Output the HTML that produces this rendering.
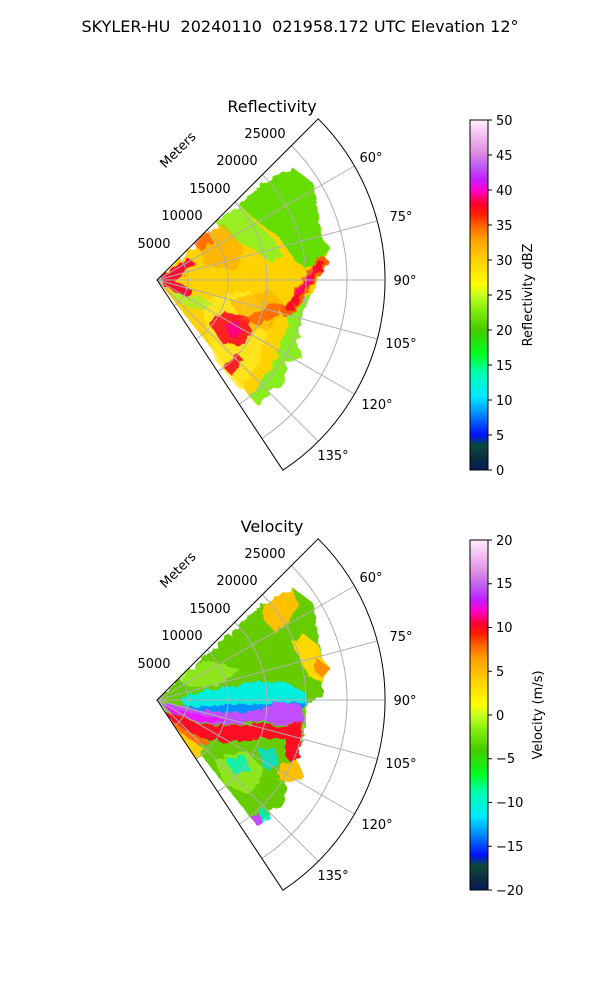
<!DOCTYPE html>
<html><head><meta charset="utf-8"><style>
html,body{margin:0;padding:0;background:#fff;}
svg{display:block;font-family:"DejaVu Sans","Liberation Sans",sans-serif;}
</style></head><body>
<svg width="600" height="1000" viewBox="0 0 600 1000" xmlns="http://www.w3.org/2000/svg">
<defs>
<linearGradient id="cm" x1="0" y1="1" x2="0" y2="0">
<stop offset="0" stop-color="#0a1a5a"/>
<stop offset="0.03" stop-color="#0a2a40"/>
<stop offset="0.07" stop-color="#0a4a3a"/>
<stop offset="0.1" stop-color="#0010ff"/>
<stop offset="0.17" stop-color="#00a0ff"/>
<stop offset="0.21" stop-color="#00e8ff"/>
<stop offset="0.28" stop-color="#00ffb0"/>
<stop offset="0.33" stop-color="#00ff20"/>
<stop offset="0.4" stop-color="#44cc00"/>
<stop offset="0.46" stop-color="#88ee10"/>
<stop offset="0.5" stop-color="#c8ff20"/>
<stop offset="0.53" stop-color="#ffff00"/>
<stop offset="0.6" stop-color="#ffd000"/>
<stop offset="0.66" stop-color="#ffa000"/>
<stop offset="0.7" stop-color="#ff6000"/>
<stop offset="0.73" stop-color="#ff2000"/>
<stop offset="0.76" stop-color="#ff0030"/>
<stop offset="0.8" stop-color="#ff00d0"/>
<stop offset="0.83" stop-color="#c020ff"/>
<stop offset="0.87" stop-color="#c060f0"/>
<stop offset="0.91" stop-color="#e090e0"/>
<stop offset="0.95" stop-color="#f0b8f0"/>
<stop offset="1" stop-color="#fff0fc"/>
</linearGradient>
<filter id="rough" x="-10%" y="-10%" width="120%" height="120%">
<feTurbulence type="fractalNoise" baseFrequency="0.15" numOctaves="2" seed="3" result="n"/>
<feDisplacementMap in="SourceGraphic" in2="n" scale="7"/>
</filter>
<clipPath id="wedge"><path d="M157,280 L318.2,118.8 A228,228 0 0 1 282.9,470.2 Z"/></clipPath>
<g id="axes">
<g fill="none" stroke="#b0b0b0" stroke-width="1">
<path d="M157,280 L354.5,166 M157,280 L377.2,221 M157,280 L385,280 M157,280 L377.2,339 M157,280 L354.5,394 M157,280 L318.2,441.2"/>
<g clip-path="url(#wedge)">
<circle cx="157" cy="280" r="31"/><circle cx="157" cy="280" r="71"/><circle cx="157" cy="280" r="110"/><circle cx="157" cy="280" r="149"/><circle cx="157" cy="280" r="190"/>
</g>
</g>
<path d="M157,280 L318.2,118.8 A228,228 0 0 1 282.9,470.2 Z" fill="none" stroke="#000" stroke-width="1"/>
<g font-size="13" fill="#000">
<text x="371" y="162" text-anchor="middle">60°</text>
<text x="401" y="221" text-anchor="middle">75°</text>
<text x="405" y="285" text-anchor="middle">90°</text>
<text x="401" y="348" text-anchor="middle">105°</text>
<text x="377" y="409" text-anchor="middle">120°</text>
<text x="333" y="460" text-anchor="middle">135°</text>
<text x="154" y="248" text-anchor="middle">5000</text>
<text x="182" y="220" text-anchor="middle">10000</text>
<text x="210" y="193" text-anchor="middle">15000</text>
<text x="237" y="165" text-anchor="middle">20000</text>
<text x="265" y="138" text-anchor="middle">25000</text>
<text x="0" y="0" text-anchor="middle" transform="translate(181,153) rotate(-45)">Meters</text>
</g>
</g>
</defs>

<text x="300" y="32" font-size="16" text-anchor="middle" xml:space="preserve">SKYLER-HU  20240110  021958.172 UTC Elevation 12°</text>

<!-- Reflectivity -->
<text x="272" y="112" font-size="16" text-anchor="middle">Reflectivity</text>
<g clip-path="url(#wedge)">
<g filter="url(#rough)">
<path fill="#ffd200" d="M157,280 L258,188 L273,178 L293,168 L313,183 L318,215 L323,240 L330,247 L322,270 L313,293 L303,313 L297,343 L303,358 L287,363 L283,387 L270,390 L258,405 L255,403 Z"/>
<path fill="#ffe820" opacity="0.8" d="M200,300 L250,290 L270,320 L260,360 L240,390 L215,360 Z"/>
<path fill="#66dd00" d="M240,205 L258,188 L273,178 L293,168 L313,183 L323,240 L330,247 L322,262 L306,268 L296,262 L288,250 L278,236 L262,225 L250,215 Z"/>
<path fill="#99ee22" d="M215,222 L240,205 L250,216 L262,228 L275,240 L282,255 L270,262 L255,250 L235,240 Z"/>
<path fill="#88ee22" d="M300,300 L313,293 L303,313 L297,343 L303,358 L287,363 L283,387 L270,390 L258,405 L250,396 L262,380 L276,360 L284,335 L290,315 Z"/>
<path fill="#aaf030" opacity="0.8" d="M170,292 L200,296 L215,305 L195,310 L175,300 Z"/>
<path fill="#ffa000" opacity="0.55" d="M195,235 L225,225 L245,250 L235,270 L205,265 Z"/>
<path fill="#ffa000" opacity="0.5" d="M230,300 L270,290 L285,305 L270,330 L245,330 Z"/>
<path fill="none" stroke="#ff6000" stroke-width="11" stroke-linecap="round" d="M287,312 L322,262"/>
<path fill="none" stroke="#ff1020" stroke-width="7" stroke-linecap="round" d="M289,308 L321,264"/>
<path fill="none" stroke="#ff0090" stroke-width="3" stroke-linecap="round" d="M296,296 L315,270"/>
<path fill="#ff2020" d="M208,322 L225,312 L248,318 L252,335 L240,346 L222,343 Z"/>
<path fill="#ff0080" d="M225,325 L238,322 L242,334 L231,338 Z"/>
<path fill="#ff2020" d="M223,367 L237,353 L243,360 L232,376 Z"/>
<path fill="#ff5000" opacity="0.7" d="M242,320 L275,302 L288,306 L260,325 Z"/>
<path fill="#ff1030" d="M160,277 L188,258 L196,264 L174,281 L192,290 L187,298 L162,285 Z"/>
<path fill="#ff4000" opacity="0.6" d="M192,242 L208,232 L213,242 L200,250 Z"/>
</g>
</g>
<use href="#axes"/>
<rect x="470" y="120" width="18" height="350" fill="url(#cm)" stroke="#000" stroke-width="1"/>
<g stroke="#000">
<path d="M488,470h4M488,435h4M488,400h4M488,365h4M488,330h4M488,295h4M488,260h4M488,225h4M488,190h4M488,155h4M488,120h4"/>
</g>
<g font-size="13">
<text x="496" y="475">0</text><text x="496" y="440">5</text><text x="496" y="405">10</text><text x="496" y="370">15</text><text x="496" y="335">20</text><text x="496" y="300">25</text><text x="496" y="265">30</text><text x="496" y="230">35</text><text x="496" y="195">40</text><text x="496" y="160">45</text><text x="496" y="125">50</text>
<text x="0" y="0" text-anchor="middle" transform="translate(532,295) rotate(-90)">Reflectivity dBZ</text>
</g>

<!-- Velocity -->
<text x="272" y="532" font-size="16" text-anchor="middle">Velocity</text>
<g transform="translate(0,420)">
<g clip-path="url(#wedge)">
<g filter="url(#rough)">
<path fill="#66cc00" d="M157,280 L258,188 L277,178 L293,168 L313,183 L318,215 L323,240 L330,248 L322,257 L323,277 L307,282 L305,313 L297,340 L305,358 L287,363 L283,387 L270,390 L258,405 L255,403 Z"/>
<path fill="#99ee22" opacity="0.8" d="M175,255 L210,240 L240,250 L220,265 L190,268 Z"/>
<path fill="#99ee22" opacity="0.8" d="M215,340 L245,330 L265,350 L250,375 L225,365 Z"/>
<path fill="#ffc000" d="M264,186 L277,178 L293,168 L298,185 L288,203 L275,212 L264,200 Z"/>
<path fill="#ffd800" d="M292,222 L305,215 L318,225 L323,240 L330,248 L322,262 L310,258 L300,240 Z"/>
<path fill="#ff9000" d="M316,238 L330,248 L322,258 L314,250 Z"/>
<path fill="#00eedd" d="M180,276 L220,268 L255,262 L285,262 L305,272 L306,283 L270,287 L220,288 L185,286 Z"/>
<path fill="#0090ff" d="M185,287 L230,285 L270,283 L305,282 L305,288 L270,292 L230,294 L190,293 Z"/>
<path fill="#c050ff" d="M160,282 L200,290 L240,293 L262,290 L275,282 L300,284 L305,300 L290,305 L275,305 L262,300 L240,305 L205,304 L170,292 Z"/>
<path fill="#ff00ff" opacity="0.7" d="M165,286 L200,295 L230,300 L210,303 L175,297 Z"/>
<path fill="#ff1020" d="M165,292 L205,305 L240,306 L262,302 L280,308 L292,305 L300,300 L303,315 L298,338 L292,345 L285,335 L285,318 L270,318 L250,320 L225,322 L200,318 L175,305 Z"/>
<path fill="#ff7000" d="M163,295 L190,312 L210,322 L195,330 L175,315 Z"/>
<path fill="#ffd000" d="M160,290 L180,312 L205,330 L195,340 L175,320 Z"/>
<path fill="#ffc000" d="M280,345 L297,340 L305,358 L287,363 L278,360 Z"/>
<path fill="#00f0c0" opacity="0.85" d="M225,340 L245,335 L250,350 L235,355 Z"/>
<path fill="#00f0c0" opacity="0.85" d="M255,395 L265,388 L270,398 L260,404 Z"/>
<path fill="#00e0e0" opacity="0.8" d="M258,330 L275,328 L280,345 L265,350 Z"/>
<path fill="#cc44ff" d="M252,398 L258,392 L262,402 L256,405 Z"/>
</g>
</g>
<use href="#axes"/>
</g>
<rect x="470" y="540" width="18" height="350" fill="url(#cm)" stroke="#000" stroke-width="1"/>
<g stroke="#000">
<path d="M488,890h4M488,846.25h4M488,802.5h4M488,758.75h4M488,715h4M488,671.25h4M488,627.5h4M488,583.75h4M488,540h4"/>
</g>
<g font-size="13">
<text x="496" y="895">−20</text><text x="496" y="851">−15</text><text x="496" y="807">−10</text><text x="496" y="763">−5</text><text x="496" y="720">0</text><text x="496" y="676">5</text><text x="496" y="632">10</text><text x="496" y="588">15</text><text x="496" y="545">20</text>
<text x="0" y="0" text-anchor="middle" transform="translate(542,715) rotate(-90)">Velocity (m/s)</text>
</g>
</svg>
</body></html>
